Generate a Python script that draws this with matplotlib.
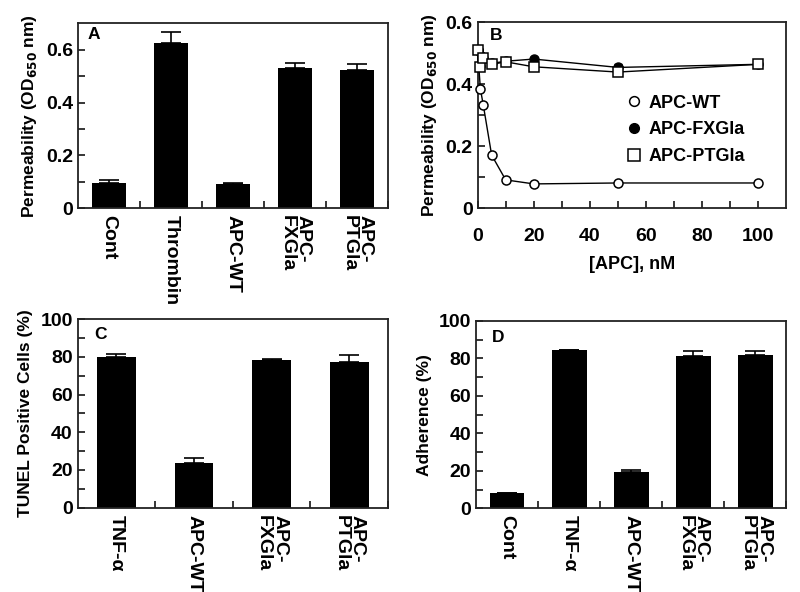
import matplotlib
matplotlib.use("Agg")
import matplotlib.pyplot as plt
from matplotlib.lines import Line2D
import numpy as np

plt.rcParams['font.family'] = ['Liberation Sans', 'DejaVu Sans']
plt.rcParams['font.weight'] = 'bold'
plt.rcParams['mathtext.default'] = 'bf'

# Panel A - permeability
a_labels = ['Cont', 'Thrombin', 'APC-WT', 'APC-\nFXGla', 'APC-\nPTGla']
a_vals = [0.096, 0.625, 0.092, 0.532, 0.522]
a_err = [0.011, 0.042, 0.003, 0.019, 0.025]

# Panel B - dose response
b_conc = [0, 1, 2, 5, 10, 20, 50, 100]
b_wt = [0.51, 0.385, 0.335, 0.172, 0.092, 0.079, 0.082, 0.082]
b_fx = [0.51, 0.46, 0.485, 0.468, 0.475, 0.482, 0.455, 0.465]
b_fx_err = [0.0, 0.005, 0.005, 0.005, 0.005, 0.008, 0.01, 0.008]
b_pt = [0.512, 0.455, 0.487, 0.465, 0.473, 0.457, 0.44, 0.465]

# Panel C - TUNEL
c_labels = ['TNF-α', 'APC-WT', 'APC-\nFXGla', 'APC-\nPTGla']
c_vals = [79.8, 23.5, 78.2, 77.5]
c_err = [1.6, 2.6, 0.4, 3.6]

# Panel D - adherence
d_labels = ['Cont', 'TNF-α', 'APC-WT', 'APC-\nFXGla', 'APC-\nPTGla']
d_vals = [8.0, 84.3, 19.5, 81.2, 81.6]
d_err = [0.2, 0.4, 0.9, 2.6, 2.3]

fig = plt.figure(figsize=(8, 5.92), dpi=100)
axA = fig.add_axes([0.0975, 0.648, 0.3875, 0.313])
axB = fig.add_axes([0.597, 0.648, 0.386, 0.314])
axC = fig.add_axes([0.097, 0.1424, 0.388, 0.3186])
axD = fig.add_axes([0.595, 0.1414, 0.388, 0.3166])


def style(ax):
    for s in ax.spines.values():
        s.set_linewidth(1.3)
        s.set_color('#222222')
    ax.tick_params(direction='in', which='both', width=1.1, labelsize=14)
    ax.tick_params(which='major', length=5)
    ax.tick_params(which='minor', length=5)


def bars(ax, labels, vals, err, ylim, major, minor, ylabel, letter, lx, ly):
    x = np.arange(len(labels))
    ax.bar(x, vals, width=0.56, color='black', zorder=2)
    ax.errorbar(x, vals, yerr=[np.zeros(len(err)), err], fmt='none',
                ecolor='black', elinewidth=1.2, capsize=7, capthick=1.2, zorder=1)
    ax.set_xlim(-0.5, len(labels) - 0.5)
    ax.set_ylim(*ylim)
    ax.set_yticks(major)
    ax.set_yticks(minor, minor=True)
    ax.set_xticks(x + 0.5, minor=True)
    ax.set_xticks(x)
    ax.set_xticklabels(labels, rotation=-90, va='top', ha='center',
                       multialignment='left', fontsize=12, linespacing=0.95)
    style(ax)
    ax.tick_params(axis='x', which='major', length=0, pad=5)
    ax.set_ylabel(ylabel, fontsize=12.5, fontweight='bold', labelpad=5)
    ax.text(lx, ly, letter, transform=ax.transAxes, fontsize=12.5,
            fontweight='bold', va='center', ha='left')


bars(axA, a_labels, a_vals, a_err, (0, 0.7), [0, 0.2, 0.4, 0.6],
     [0.1, 0.3, 0.5], 'Permeability (OD$_{650}$ nm)', 'A', 0.03, 0.94)
axA.set_yticklabels(['0', '0.2', '0.4', '0.6'])

bars(axC, c_labels, c_vals, c_err, (0, 100), [0, 20, 40, 60, 80, 100],
     [10, 30, 50, 70, 90], 'TUNEL Positive Cells (%)', 'C', 0.055, 0.92)
for p in axC.patches:
    p.set_width(0.5)
    p.set_x(p.get_x() + 0.03)

bars(axD, d_labels, d_vals, d_err, (0, 100), [0, 20, 40, 60, 80, 100],
     [10, 30, 50, 70, 90], 'Adherence (%)', 'D', 0.05, 0.91)

# Panel B
axB.plot(b_conc, b_wt, color='black', lw=1, marker='o', ms=6.5,
         mfc='white', mec='black', mew=1.1, zorder=3, clip_on=False)
axB.errorbar(b_conc, b_fx, yerr=b_fx_err, color='black', lw=1, marker='o',
             ms=6.5, mfc='black', mec='black', capsize=3, zorder=4, clip_on=False)
axB.plot(b_conc, b_pt, color='black', lw=1, marker='s', ms=7.5,
         mfc='white', mec='black', mew=1.1, zorder=5, clip_on=False)
axB.set_xlim(0, 110)
axB.set_ylim(0, 0.6)
axB.set_xticks([0, 20, 40, 60, 80, 100])
axB.set_xticks(np.arange(10, 110, 20), minor=True)
axB.set_yticks([0, 0.2, 0.4, 0.6])
axB.set_yticklabels(['0', '0.2', '0.4', '0.6'])
axB.set_yticks([0.1, 0.3, 0.5], minor=True)
style(axB)
axB.tick_params(axis='x', pad=14)
axB.set_xlabel('[APC], nM', fontsize=13, fontweight='bold', labelpad=8)
axB.set_ylabel('Permeability (OD$_{650}$ nm)', fontsize=12.5, fontweight='bold', labelpad=5)
axB.text(0.04, 0.93, 'B', transform=axB.transAxes, fontsize=12.5,
         fontweight='bold', va='center', ha='left')
handles = [
    Line2D([], [], ls='none', marker='o', ms=7, mfc='white', mec='black', mew=1.1),
    Line2D([], [], ls='none', marker='o', ms=7, mfc='black', mec='black'),
    Line2D([], [], ls='none', marker='s', ms=8, mfc='white', mec='black', mew=1.1),
]
axB.legend(handles, ['APC-WT', 'APC-FXGla', 'APC-PTGla'], loc='upper left',
           bbox_to_anchor=(0.43, 0.70), frameon=False, handlelength=0.8,
           handletextpad=0.4, labelspacing=0.55, prop={'size': 13, 'weight': 'bold'})

fig.savefig('out.png', dpi=100)
